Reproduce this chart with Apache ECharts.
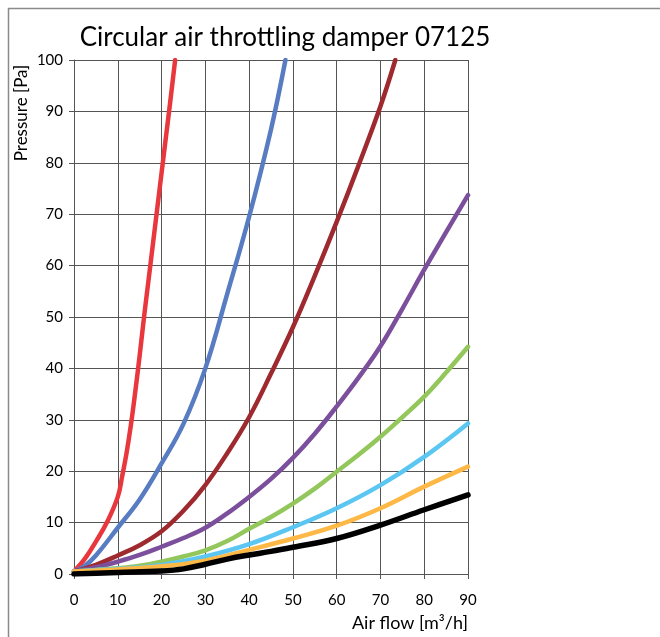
<!DOCTYPE html>
<html>
<head>
<meta charset="utf-8">
<script src="https://cdn.jsdelivr.net/npm/echarts@6/dist/echarts.min.js"></script>
<style>
html,body{margin:0;padding:0;background:#fff;}
#chart{width:660px;height:637px;}
</style>
</head>
<body>
<div id="chart"></div>
<script>
const titleText = 'Circular air throttling damper 07125';
const xAxisName = 'Air flow [m³/h]';
const yAxisName = 'Pressure [Pa]';
const xTicks = [0, 10, 20, 30, 40, 50, 60, 70, 80, 90];
const yTicks = [0, 10, 20, 30, 40, 50, 60, 70, 80, 90, 100];

const redData = [[0,0.5],[2.5,3],[5,6.3],[7.5,10],[10,15],[11,19],[12,23.5],[13,29],[14,35.5],[15,42.5],[16,50],[17,57],[18,64],[19,71],[20,78],[21,85],[22,92],[23.1,100]];
const blueData = [[0,0.5],[2.5,1.6],[5,3.6],[10,9],[15,14.5],[20,21.5],[25,29.2],[30,40],[35,54.5],[40,69.5],[45,86.5],[48.3,100]];
const brownData = [[0,0.5],[5,1.8],[10,3.6],[15,5.6],[20,8.3],[25,12.3],[30,17.3],[35,23.5],[40,30.5],[45,39],[50,48],[55,58],[60,68.5],[65,79.5],[70,91],[73.4,100]];
const purpleData = [[0,0.5],[5,1.3],[10,2.4],[15,3.7],[20,5.3],[25,7],[30,9],[35,11.8],[40,15],[45,18.5],[50,22.6],[55,27.3],[60,32.6],[65,38.2],[70,44.3],[75,51.6],[80,59.2],[85,66.5],[90,73.7]];
const greenData = [[0,0.5],[5,0.8],[10,1.1],[15,1.6],[20,2.4],[25,3.4],[30,4.6],[35,6.4],[40,8.8],[45,11.1],[50,13.7],[55,16.6],[60,19.9],[65,23.2],[70,26.7],[75,30.5],[80,34.5],[85,39.2],[90,44.2]];
const cyanData = [[0,0.5],[10,1.0],[20,1.75],[30,3.4],[40,5.8],[50,9.1],[60,12.8],[70,17.3],[80,22.8],[90,29.3]];
const orangeData = [[0,0.5],[10,0.9],[20,1.5],[30,2.6],[40,4.7],[50,6.9],[60,9.4],[70,12.8],[80,17.0],[90,20.9]];
const blackData = [[0,0],[10,0.3],[20,0.6],[25,1.0],[30,1.9],[35,2.9],[40,3.7],[45,4.4],[50,5.2],[60,6.9],[70,9.5],[80,12.5],[90,15.4]];

const seriesList = [
  {name:'red', data: redData, color:'#E8383D', width:4.5},
  {name:'blue', data: blueData, color:'#587CC2', width:4.5},
  {name:'brown', data: brownData, color:'#9E2A2F', width:4.5},
  {name:'purple', data: purpleData, color:'#7B4F9C', width:4.5},
  {name:'green', data: greenData, color:'#93C75B', width:4.5},
  {name:'cyan', data: cyanData, color:'#5BC6F2', width:4.5},
  {name:'orange', data: orangeData, color:'#FDB845', width:4.5},
  {name:'black', data: blackData, color:'#000000', width:5.5}
];

const FONT = 'Lato';
const chart = echarts.init(document.getElementById('chart'), null, {renderer:'canvas'});
const gridColor = '#555555';
chart.setOption({
  animation: false,
  backgroundColor: '#ffffff',
  title: {
    text: titleText, left: 280, top: 20, textAlign: 'center',
    textStyle: {fontFamily: FONT, fontSize: 26, fontWeight: 'normal', color: '#000'}
  },
  grid: {left: 74, top: 60, right: 192, bottom: 63, containLabel: false},
  xAxis: {
    type: 'value', min: xTicks[0], max: xTicks[xTicks.length-1], interval: 10,
    axisLine: {show: true, onZero: false, lineStyle: {color: gridColor, width: 1}},
    axisTick: {show: true, inside: false, length: 5, lineStyle: {color: gridColor}},
    axisLabel: {fontFamily: FONT, fontSize: 15, color: '#000', margin: 19},
    splitLine: {show: true, lineStyle: {color: gridColor, width: 1}}
  },
  yAxis: {
    type: 'value', min: yTicks[0], max: yTicks[yTicks.length-1], interval: 10,
    axisLine: {show: true, lineStyle: {color: gridColor, width: 1}},
    axisTick: {show: true, inside: false, length: 5, lineStyle: {color: gridColor}},
    axisLabel: {fontFamily: FONT, fontSize: 15, color: '#000', margin: 11},
    splitLine: {show: true, lineStyle: {color: gridColor, width: 1}}
  },
  graphic: [
    {type: 'rect', left: 6, top: 6, shape: {width: 700, height: 700}, style: {fill: 'none', stroke: '#8a8a8a', lineWidth: 1.5}, z: -1},
    {type: 'text', x: 22, y: 113, rotation: Math.PI/2, style: {text: yAxisName, font: '17px ' + FONT, fill: '#000', textAlign: 'center', textVerticalAlign: 'middle'}},
    {type: 'text', x: 468, y: 623, style: {text: xAxisName, font: '18px ' + FONT, fill: '#000', textAlign: 'right', textVerticalAlign: 'middle'}}
  ],
  series: seriesList.map(s => ({
    type: 'line', name: s.name, data: s.data, smooth: 0.4,
    showSymbol: false, symbol: 'none', clip: true,
    lineStyle: {color: s.color, width: s.width, cap: 'round', join: 'round'},
    itemStyle: {color: s.color}
  }))
});
</script>
</body>
</html>
